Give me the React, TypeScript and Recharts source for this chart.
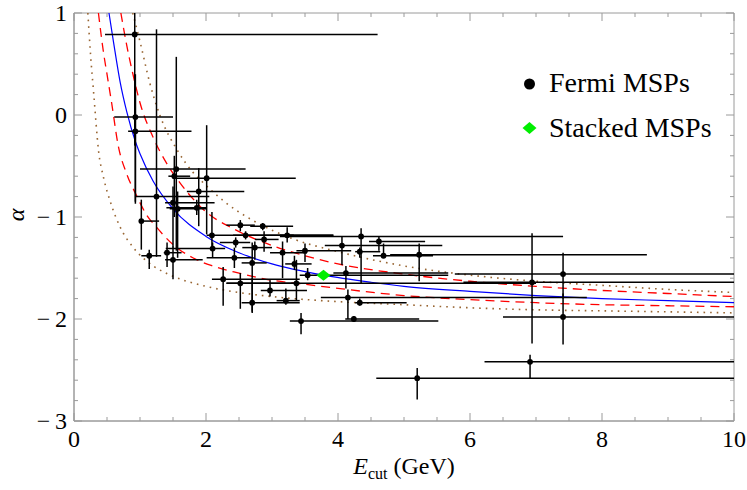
import React from 'react';
import { ComposedChart, XAxis, YAxis, Scatter, Line, ErrorBar, ReferenceArea } from 'recharts';

// ---------- Fermi MSPs ----------
const ptX = [0.92, 0.93, 0.93, 1.55, 1.52, 2.01, 1.89, 1.25, 1.50, 1.57, 1.86, 1.02, 1.14, 1.41, 1.50, 2.09, 2.10, 2.52, 2.60, 2.45, 2.86, 2.88, 2.74, 3.23, 2.43, 2.70, 3.16, 3.50, 3.34, 2.26, 2.52, 2.70, 2.97, 3.21, 3.54, 3.37, 3.44, 4.06, 4.35, 4.62, 4.33, 4.69, 5.23, 4.12, 4.15, 4.33, 4.24, 6.94, 7.41, 7.41, 6.91, 5.20];
const ptY = [0.79, -0.02, -0.16, -0.53, -0.60, -0.62, -0.75, -0.80, -0.86, -0.92, -0.91, -1.04, -1.38, -1.35, -1.42, -1.18, -1.31, -1.08, -1.18, -1.25, -1.09, -1.22, -1.30, -1.18, -1.40, -1.45, -1.35, -1.33, -1.46, -1.61, -1.65, -1.84, -1.72, -1.82, -1.57, -1.65, -2.02, -1.28, -1.19, -1.24, -1.34, -1.38, -1.37, -1.55, -1.79, -1.84, -2.00, -1.64, -1.56, -1.98, -2.42, -2.58];
const ptXLow = [0.47, 0.61, 0.82, 1.00, 1.43, 1.53, 1.71, 0.94, 1.38, 1.45, 1.40, 1.00, 1.02, 1.36, 1.38, 2.01, 1.39, 2.31, 2.41, 2.21, 2.67, 2.74, 2.55, 3.12, 2.01, 2.54, 2.97, 3.37, 3.20, 2.09, 2.31, 2.54, 2.83, 3.07, 3.42, 2.31, 3.27, 3.80, 3.12, 4.47, 4.26, 4.53, 4.79, 3.93, 3.74, 4.26, 4.11, 5.90, 5.77, 6.50, 6.22, 4.58];
const ptXHigh = [4.60, 1.50, 1.78, 2.60, 1.76, 3.36, 2.58, 2.05, 2.13, 2.01, 2.01, 1.29, 1.32, 1.63, 1.95, 3.93, 2.29, 2.74, 3.33, 2.67, 3.32, 3.10, 3.00, 3.93, 2.72, 2.92, 3.53, 4.20, 3.60, 3.42, 3.42, 3.42, 3.53, 3.42, 5.67, 7.00, 5.52, 5.58, 7.41, 5.32, 4.64, 5.44, 8.68, 5.67, 7.77, 5.04, 5.23, 10.0, 10.0, 10.0, 10.0, 10.0];
const ptYLow = [-0.30, -0.87, -0.85, -1.33, -1.00, -1.17, -1.09, -1.39, -1.30, -1.40, -0.98, -1.32, -1.51, -1.49, -1.61, -1.29, -1.40, -1.14, -1.22, -1.30, -1.13, -1.34, -1.42, -1.25, -1.50, -1.93, -1.60, -1.44, -1.52, -1.87, -1.90, -1.94, -1.78, -1.86, -1.62, -1.82, -2.15, -1.47, -1.65, -1.33, -1.40, -1.39, -1.63, -1.70, -2.00, -1.87, -2.03, -2.24, -1.80, -2.25, -2.58, -2.79];
const ptYHigh = [1.00, 0.40, 0.20, 0.57, -0.40, -0.10, -0.52, 0.84, -0.70, -0.75, -0.83, -0.83, -1.32, -1.25, -1.29, -0.95, -1.25, -1.03, -1.14, -1.20, -1.06, -1.14, -1.24, -1.10, -1.30, -1.25, -1.24, -1.26, -1.38, -1.49, -1.55, -1.60, -1.62, -1.70, -1.50, -1.42, -1.94, -1.19, -1.11, -1.19, -1.30, -1.26, -1.26, -1.48, -1.71, -1.80, -1.97, -1.16, -1.35, -1.75, -2.35, -2.48];

// ---------- Stacked MSPs ----------
const stackX = [3.78];
const stackY = [-1.57];

// ---------- curves ----------
const blueX = [0.53, 0.6, 0.7, 0.8, 0.93, 1.0, 1.2, 1.5, 2.0, 2.5, 3.0, 3.78, 4.5, 5.0, 6.0, 7.0, 8.0, 9.0, 10.0];
const blueY = [1.0, 0.71, 0.32, 0.03, -0.26, -0.38, -0.65, -0.92, -1.19, -1.35, -1.46, -1.57, -1.64, -1.68, -1.73, -1.77, -1.80, -1.82, -1.84];

const redUpX = [0.71, 0.8, 0.9, 1.0, 1.2, 1.4, 1.6, 1.8, 2.0, 2.4, 3.0, 3.5, 4.0, 5.0, 6.0, 7.0, 8.0, 9.0, 10.0];
const redUpY = [1.0, 0.68, 0.38, 0.12, -0.22, -0.47, -0.66, -0.82, -0.95, -1.11, -1.28, -1.38, -1.46, -1.56, -1.63, -1.68, -1.72, -1.75, -1.78];

const redLoX = [0.37, 0.45, 0.5, 0.57, 0.67, 0.8, 0.94, 1.1, 1.25, 1.5, 1.8, 2.1, 2.5, 3.0, 3.5, 4.0, 5.0, 6.0, 7.0, 8.0, 9.0, 10.0];
const redLoY = [1.0, 0.6, 0.4, 0.12, -0.3, -0.58, -0.78, -0.98, -1.10, -1.27, -1.40, -1.48, -1.55, -1.62, -1.66, -1.70, -1.77, -1.81, -1.84, -1.86, -1.87, -1.88];

const brownUpX = [0.89, 1.0, 1.15, 1.3, 1.56, 1.8, 2.0, 2.3, 2.7, 3.3, 4.0, 5.0, 6.0, 7.0, 8.0, 9.0, 10.0];
const brownUpY = [1.0, 0.72, 0.31, 0.0, -0.34, -0.56, -0.69, -0.86, -1.03, -1.21, -1.34, -1.48, -1.57, -1.63, -1.67, -1.71, -1.74];

const brownLoX = [0.21, 0.25, 0.3, 0.37, 0.45, 0.55, 0.7, 0.9, 1.2, 1.5, 2.0, 2.5, 3.0, 4.0, 5.0, 6.0, 7.0, 8.0, 9.0, 10.0];
const brownLoY = [1.0, 0.6, 0.2, -0.34, -0.62, -0.85, -1.1, -1.3, -1.48, -1.58, -1.68, -1.74, -1.78, -1.83, -1.86, -1.89, -1.91, -1.92, -1.93, -1.94];

// ---------- ticks ----------
const xTicks = [0, 0.5, 1, 1.5, 2, 2.5, 3, 3.5, 4, 4.5, 5, 5.5, 6, 6.5, 7, 7.5, 8, 8.5, 9, 9.5, 10];
const xMajor = [0, 2, 4, 6, 8, 10];
const xMajorLabels = ['0', '2', '4', '6', '8', '10'];
const yTicks = [-3, -2.8, -2.6, -2.4, -2.2, -2, -1.8, -1.6, -1.4, -1.2, -1, -0.8, -0.6, -0.4, -0.2, 0, 0.2, 0.4, 0.6, 0.8, 1];
const yMajor = [-3, -2, -1, 0, 1];
const yMajorLabels = ['\u2212\u20093', '\u2212\u20092', '\u2212\u20091', '0', '1'];

const legendNames = ['Fermi MSPs', 'Stacked MSPs'];

const points = ptX.map((x, i) => ({
  x,
  y: ptY[i],
  ex: [x - ptXLow[i], ptXHigh[i] - x],
  ey: [ptY[i] - ptYLow[i], ptYHigh[i] - ptY[i]],
}));
const stacked = stackX.map((x, i) => ({ x, y: stackY[i] }));
const mk = (xs: number[], ys: number[]) => xs.map((x, i) => ({ x, y: ys[i] }));
const blue = mk(blueX, blueY);
const redUp = mk(redUpX, redUpY);
const redLo = mk(redLoX, redLoY);
const brownUp = mk(brownUpX, brownUpY);
const brownLo = mk(brownLoX, brownLoY);

// ---------- layout ----------
const W = 747;
const H = 490;
const M_TOP = 13;
const M_RIGHT = 13;
const Y_AXIS_W = 74;
const X_AXIS_H = 69;
const PLOT_W = W - Y_AXIS_W - M_RIGHT;
const PLOT_H = H - M_TOP - X_AXIS_H;

const FONT = '"Liberation Serif", "Times New Roman", serif';
const FRAME = '#9a9a9a';
const MAJ = 8;
const MIN = 4;
const near = (arr: number[], v: number) => arr.findIndex((a) => Math.abs(a - v) < 1e-6);

// bottom tick also draws the mirrored tick on the top frame edge
const BottomTick = (p: any) => {
  const v = p.payload.value;
  const k = near(xMajor, v);
  const len = k >= 0 ? MAJ : MIN;
  const top = p.y - PLOT_H;
  return (
    <g>
      <line x1={p.x} x2={p.x} y1={p.y} y2={p.y - len} stroke={FRAME} strokeWidth={1} />
      <line x1={p.x} x2={p.x} y1={top} y2={top + len} stroke={FRAME} strokeWidth={1} />
      {k >= 0 && (
        <text x={p.x} y={p.y + 26} textAnchor="middle" fontFamily={FONT} fontSize={24} fill="#000">
          {xMajorLabels[k]}
        </text>
      )}
    </g>
  );
};
// left tick also draws the mirrored tick on the right frame edge
const LeftTick = (p: any) => {
  const v = p.payload.value;
  const k = near(yMajor, v);
  const len = k >= 0 ? MAJ : MIN;
  const right = p.x + PLOT_W;
  return (
    <g>
      <line x1={p.x} x2={p.x + len} y1={p.y} y2={p.y} stroke={FRAME} strokeWidth={1} />
      <line x1={right} x2={right - len} y1={p.y} y2={p.y} stroke={FRAME} strokeWidth={1} />
      {k >= 0 && (
        <text x={p.x - 7} y={p.y + 8} textAnchor="end" fontFamily={FONT} fontSize={24} fill="#000">
          {yMajorLabels[k]}
        </text>
      )}
    </g>
  );
};

const Dot = (p: any) => <circle cx={p.cx} cy={p.cy} r={2.9} fill="#000" />;
const Diamond = (p: any) => (
  <polygon
    points={`${p.cx - 7},${p.cy} ${p.cx},${p.cy - 5.5} ${p.cx + 7},${p.cy} ${p.cx},${p.cy + 5.5}`}
    fill="#00ee00"
  />
);

export default function App() {
  return (
    <div style={{ position: 'relative', width: W, height: H }}>
      <style>{'html,body{margin:0;padding:0;background:#fff;overflow:hidden}'}</style>
      <ComposedChart width={W} height={H} margin={{ top: M_TOP, right: M_RIGHT, bottom: 0, left: 0 }}>
        <XAxis
          xAxisId="b"
          type="number"
          dataKey="x"
          domain={[0, 10]}
          allowDataOverflow
          ticks={xTicks}
          interval={0}
          tickSize={0}
          tickMargin={0}
          height={X_AXIS_H}
          axisLine={{ stroke: FRAME }}
          tickLine={false}
          tick={BottomTick}
        />
        <YAxis
          yAxisId="l"
          type="number"
          dataKey="y"
          domain={[-3, 1]}
          allowDataOverflow
          ticks={yTicks}
          interval={0}
          tickSize={0}
          tickMargin={0}
          width={Y_AXIS_W}
          axisLine={{ stroke: FRAME }}
          tickLine={false}
          tick={LeftTick}
        />
        <ReferenceArea xAxisId="b" yAxisId="l" x1={0} x2={10} y1={-3} y2={1} fill="none" fillOpacity={0} stroke={FRAME} strokeWidth={1} ifOverflow="visible" />
        <Line xAxisId="b" yAxisId="l" data={brownLo} dataKey="y" type="monotone" stroke="#996633" strokeWidth={1.6} strokeDasharray="1.6 5" dot={false} isAnimationActive={false} />
        <Line xAxisId="b" yAxisId="l" data={brownUp} dataKey="y" type="monotone" stroke="#996633" strokeWidth={1.6} strokeDasharray="1.6 5" dot={false} isAnimationActive={false} />
        <Line xAxisId="b" yAxisId="l" data={redLo} dataKey="y" type="monotone" stroke="#ff0000" strokeWidth={1.3} strokeDasharray="9 6" dot={false} isAnimationActive={false} />
        <Line xAxisId="b" yAxisId="l" data={redUp} dataKey="y" type="monotone" stroke="#ff0000" strokeWidth={1.3} strokeDasharray="9 6" dot={false} isAnimationActive={false} />
        <Line xAxisId="b" yAxisId="l" data={blue} dataKey="y" type="monotone" stroke="#0000ff" strokeWidth={1.2} dot={false} isAnimationActive={false} />
        <Scatter xAxisId="b" yAxisId="l" data={points} dataKey="y" shape={Dot} isAnimationActive={false}>
          <ErrorBar dataKey="ex" direction="x" width={0} stroke="#000" strokeWidth={1.5} />
          <ErrorBar dataKey="ey" direction="y" width={0} stroke="#000" strokeWidth={1.5} />
        </Scatter>
        <Scatter xAxisId="b" yAxisId="l" data={stacked} dataKey="y" shape={Diamond} isAnimationActive={false} />
      </ComposedChart>
      <svg width={W} height={H} style={{ position: 'absolute', left: 0, top: 0, pointerEvents: 'none' }}>
        <text x={404} y={474} textAnchor="middle" fontFamily={FONT} fontSize={24} fill="#000">
          <tspan fontStyle="italic">E</tspan>
          <tspan fontSize={16} dy={5}>cut</tspan>
          <tspan dy={-5}> (GeV)</tspan>
        </text>
        <text x={16} y={215} textAnchor="middle" fontFamily={FONT} fontSize={24} fontStyle="italic" fill="#000" transform="rotate(-90 16 215)" dominantBaseline="central">
          α
        </text>
        <circle cx={529.5} cy={84} r={5.5} fill="#000" />
        <text x={549} y={92} fontFamily={FONT} fontSize={28} fill="#000">{legendNames[0]}</text>
        <polygon points="522.5,128 529.5,122 536.5,128 529.5,134" fill="#00ee00" />
        <text x={549} y={137} fontFamily={FONT} fontSize={28} fill="#000">{legendNames[1]}</text>
      </svg>
    </div>
  );
}
